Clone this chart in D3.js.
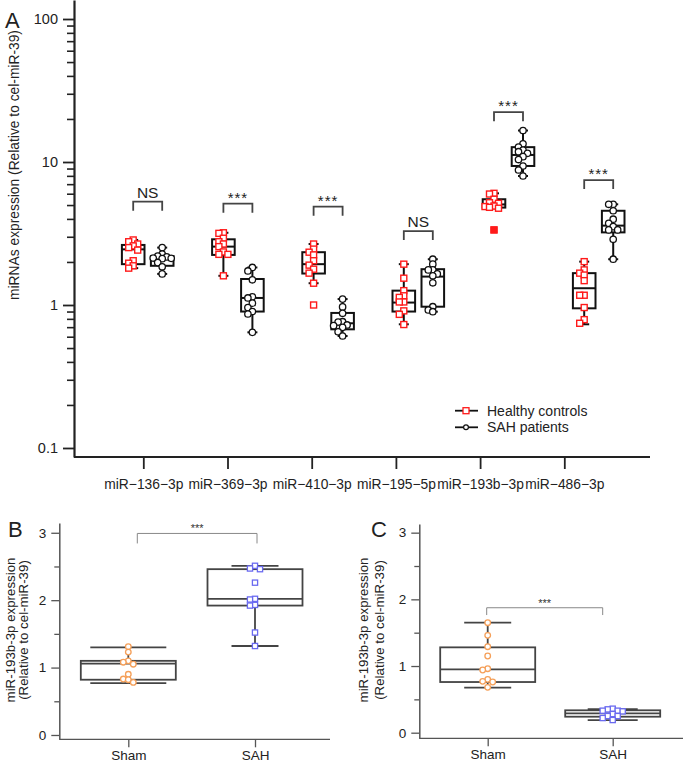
<!DOCTYPE html>
<html><head><meta charset="utf-8">
<script src="https://cdn.jsdelivr.net/npm/d3@7"></script>
<style>body{margin:0;background:#fff} svg{display:block;font-family:"Liberation Sans",Arial,sans-serif}</style>
</head><body>
<svg id="c" width="685" height="763"></svg>
<script>
// ---------- Panel A data ----------
const categories = ["miR\u2212136\u22123p","miR\u2212369\u22123p","miR\u2212410\u22123p","miR\u2212195\u22125p","miR\u2212193b\u22123p","miR\u2212486\u22123p"];
const seriesNames = ["Healthy controls","SAH patients"];
const hcValues = [
  [2.85,2.77,2.67,2.59,2.52,2.42,2.04,1.96,1.88,1.81],
  [3.20,3.17,2.93,2.77,2.67,2.56,2.35,2.26,2.26,1.60],
  [2.67,2.46,2.34,2.24,2.04,1.90,1.78,1.67,1.42,1.00],
  [1.93,1.54,1.26,1.16,1.13,1.05,1.05,0.91,0.86,0.73],
  [6.04,5.97,5.49,5.19,5.14,4.92,4.88,4.82,4.75,3.35],
  [2.01,1.76,1.67,1.62,1.48,1.17,1.17,0.96,0.79,0.745]
];
const sahValues = [
  [2.52,2.27,2.20,2.17,2.13,2.12,2.11,1.98,1.85,1.65],
  [1.83,1.73,1.50,1.14,1.12,1.03,0.96,0.90,0.865,0.644],
  [1.10,0.97,0.875,0.764,0.76,0.725,0.717,0.698,0.65,0.607],
  [2.09,1.93,1.76,1.76,1.65,1.60,1.43,0.973,0.923,0.898],
  [16.6,13.4,12.7,12.1,11.8,11.5,10.9,10.4,9.38,8.79,7.98],
  [5.06,5.06,4.56,3.98,3.73,3.53,3.35,3.35,2.88,2.09]
];
// box stats: [lower whisker, Q1, median, Q3, upper whisker]
const hcBox = [
  [1.81,1.93,2.45,2.63,2.85],
  [1.60,2.24,2.56,2.88,3.20],
  [1.42,1.66,1.93,2.34,2.67],
  [0.733,0.90,1.04,1.26,1.93],
  [4.75,4.80,5.05,5.49,6.04],
  [0.733,0.948,1.31,1.67,2.01]
];
const sahBox = [
  [1.65,1.88,2.10,2.20,2.52],
  [0.644,0.90,1.12,1.52,1.83],
  [0.607,0.676,0.745,0.88,1.10],
  [0.898,0.973,1.58,1.78,2.09],
  [7.98,9.38,11.2,12.7,16.6],
  [2.09,3.22,3.59,4.56,5.06]
];
const hcFilledOutliers = [[],[],[],[],[3.35],[]];
const sigLabels = ["NS","***","***","NS","***","***"];
const sigLevel = [5.28,5.11,4.87,3.29,22.3,7.48];
const yMajorA = [0.1,1,10,100];
const yMinorA = [0.2,0.3,0.4,0.5,0.6,0.7,0.8,0.9,2,3,4,5,6,7,8,9,20,30,40,50,60,70,80,90];

// ---------- Panels B and C data ----------
const groupsBC = ["Sham","SAH"];
const shamB = [1.31,1.23,1.10,1.08,1.05,0.90,0.83,0.82,0.78];
const sahB = [2.51,2.47,2.46,2.26,2.02,2.01,1.93,1.92,1.52,1.32];
const boxB = [[0.77,0.82,1.06,1.10,1.30],[1.32,1.92,2.02,2.46,2.51]];
const shamC = [1.65,1.46,1.29,1.15,0.96,0.94,0.80,0.77,0.76,0.68];
const sahC = [0.36,0.35,0.33,0.33,0.32,0.28,0.25,0.25,0.22,0.19];
const boxC = [[0.675,0.76,0.95,1.28,1.65],[0.19,0.24,0.29,0.336,0.355]];
const sigB = {label:"***", level:2.99};
const sigC = {label:"***", level:1.874};
const yTicksBC = [0,1,2,3];
const yMinorBC = [0.5,1.5,2.5];

const svg = d3.select("#c");

function dodge(vals, yfn, step, minD) {
  const pts = vals.map(v => ({v, y: yfn(v)})).sort((a,b) => a.y - b.y);
  const placed = [];
  const offs = [0,-1,1,-2,2,-3,3];
  for (const p of pts) {
    for (const o of offs) {
      const x = o*step;
      if (placed.every(q => Math.hypot(q.x - x, q.y - p.y) >= minD)) { p.x = x; break; }
    }
    if (p.x === undefined) p.x = 0;
    placed.push(p);
  }
  return pts;
}

// ================= PANEL A =================
const yA = d3.scaleLog().domain([0.0865, 135.8]).range([457, 0]);
const xTick = d3.scalePoint().domain(categories).range([143.3, 564.3]);
const xGrp = d3.scalePoint().domain(categories).range([147.7, 598.7]);
const pairOff = 14.5;
const gA = svg.append("g");

gA.append("g").attr("transform","translate(74,0)")
  .call(d3.axisLeft(yA).tickValues(yMinorA).tickFormat("").tickSize(7).tickSizeOuter(0))
  .call(g => g.select(".domain").remove())
  .call(g => g.selectAll("line").attr("stroke","#222").attr("stroke-width",1.6));
gA.append("g").attr("transform","translate(74,0)")
  .call(d3.axisLeft(yA).tickValues(yMajorA).tickFormat(d => d < 1 ? "0.1" : String(d)).tickSize(11).tickSizeOuter(0).tickPadding(5))
  .call(g => g.select(".domain").attr("stroke","#222").attr("stroke-width",2.2))
  .call(g => g.selectAll("line").attr("stroke","#222").attr("stroke-width",1.8))
  .call(g => g.selectAll("text").attr("font-size",14.5).attr("fill","#222").attr("font-family","Liberation Sans, Arial"));

const xAxisG = gA.append("g").attr("transform","translate(0,457)");
xAxisG.append("line").attr("x1",74).attr("x2",650).attr("stroke","#222").attr("stroke-width",2.2);
xAxisG.call(d3.axisBottom(xTick).tickSize(12).tickSizeOuter(0).tickPadding(10))
  .call(g => g.select(".domain").remove())
  .call(g => g.selectAll("line").attr("stroke","#222").attr("stroke-width",1.8))
  .call(g => g.selectAll("text").attr("font-size",13.8).attr("fill","#222").attr("font-family","Liberation Sans, Arial"));

gA.append("text").attr("x",5).attr("y",28).attr("font-size",22).attr("fill","#222").text("A");
gA.append("text").attr("transform","translate(19,165) rotate(-90)").attr("text-anchor","middle")
  .attr("font-size",13.8).attr("fill","#222").text("miRNAs expression (Relative to cel-miR-39)");

const boxW = 22.6, capW = 10;
function drawBoxA(cx, s) {
  const g = gA.append("g").attr("stroke","#111").attr("stroke-width",2).attr("fill","none");
  g.append("line").attr("x1",cx).attr("x2",cx).attr("y1",yA(s[0])).attr("y2",yA(s[1]));
  g.append("line").attr("x1",cx).attr("x2",cx).attr("y1",yA(s[3])).attr("y2",yA(s[4]));
  g.append("line").attr("x1",cx-capW/2).attr("x2",cx+capW/2).attr("y1",yA(s[0])).attr("y2",yA(s[0]));
  g.append("line").attr("x1",cx-capW/2).attr("x2",cx+capW/2).attr("y1",yA(s[4])).attr("y2",yA(s[4]));
  g.append("rect").attr("x",cx-boxW/2).attr("width",boxW).attr("y",yA(s[3])).attr("height",yA(s[1])-yA(s[3]));
  g.append("line").attr("x1",cx-boxW/2).attr("x2",cx+boxW/2).attr("y1",yA(s[2])).attr("y2",yA(s[2]));
}
categories.forEach((c,i) => {
  const cx = xGrp(c);
  drawBoxA(cx - pairOff, hcBox[i]);
  drawBoxA(cx + pairOff, sahBox[i]);
  dodge(hcValues[i], yA, 4.5, 4.5).forEach(p => {
    gA.append("rect").attr("x",cx-pairOff+p.x-3).attr("y",p.y-3).attr("width",6).attr("height",6)
      .attr("fill","#fff").attr("stroke","#ff1a1a").attr("stroke-width",1.4);
  });
  hcFilledOutliers[i].forEach(v => {
    gA.append("rect").attr("x",cx-pairOff-3.5).attr("y",yA(v)-3.5).attr("width",7).attr("height",7).attr("fill","#ff1a1a");
  });
  dodge(sahValues[i], yA, 4.5, 4.5).forEach(p => {
    gA.append("circle").attr("cx",cx+pairOff+p.x).attr("cy",p.y).attr("r",3.2)
      .attr("fill","#fff").attr("stroke","#111").attr("stroke-width",1.3);
  });
  const by = yA(sigLevel[i]);
  gA.append("path").attr("d",`M${cx-pairOff},${by+9}V${by}H${cx+pairOff}V${by+9}`)
    .attr("fill","none").attr("stroke","#444").attr("stroke-width",1.8);
  gA.append("text").attr("x",cx).attr("y", sigLabels[i]==="NS" ? by-4 : by-1)
    .attr("text-anchor","middle").attr("font-size", sigLabels[i]==="NS" ? 15.5 : 15).attr("fill","#222")
    .attr("letter-spacing", sigLabels[i]==="NS" ? 0 : 1).text(sigLabels[i]);
});

const lg = gA.append("g");
[0,1].forEach(k => {
  const ly = 410.7 + k*16.6;
  lg.append("line").attr("x1",455).attr("x2",478).attr("y1",ly).attr("y2",ly).attr("stroke","#111").attr("stroke-width",1.8);
  if (k===0) lg.append("rect").attr("x",463).attr("y",ly-3).attr("width",6).attr("height",6).attr("fill","#fff").attr("stroke","#ff1a1a").attr("stroke-width",1.3);
  else lg.append("circle").attr("cx",466).attr("cy",ly).attr("r",2.4).attr("fill","#fff").attr("stroke","#111").attr("stroke-width",1.2);
  lg.append("text").attr("x",487).attr("y",ly+5).attr("font-size",14).attr("fill","#222").text(seriesNames[k]);
});

// ================= PANELS B & C =================
function panelBC(opt) {
  const g = svg.append("g");
  const y = d3.scaleLinear().domain(opt.yDom).range([opt.bottom, opt.top]);
  const x = d3.scalePoint().domain(groupsBC).range(opt.xr);
  const axisCol = "#555";
  g.append("g").attr("transform",`translate(${opt.left},0)`)
    .call(d3.axisLeft(y).tickValues(yMinorBC).tickFormat("").tickSize(5).tickSizeOuter(0))
    .call(a => a.select(".domain").remove())
    .call(a => a.selectAll("line").attr("stroke",axisCol).attr("stroke-width",1.3));
  g.append("g").attr("transform",`translate(${opt.left},0)`)
    .call(d3.axisLeft(y).tickValues(yTicksBC).tickFormat(d3.format("d")).tickSize(8).tickSizeOuter(0).tickPadding(5))
    .call(a => a.select(".domain").attr("stroke",axisCol).attr("stroke-width",1.5))
    .call(a => a.selectAll("line").attr("stroke",axisCol).attr("stroke-width",1.3))
    .call(a => a.selectAll("text").attr("font-size",13.5).attr("fill","#222").attr("font-family","Liberation Sans, Arial"));
  const xa = g.append("g").attr("transform",`translate(0,${opt.bottom})`);
  xa.append("line").attr("x1",opt.left).attr("x2",opt.right).attr("stroke",axisCol).attr("stroke-width",1.5);
  xa.call(d3.axisBottom(x).tickSize(8).tickSizeOuter(0).tickPadding(3))
    .call(a => a.select(".domain").remove())
    .call(a => a.selectAll("line").attr("stroke",axisCol).attr("stroke-width",1.3))
    .call(a => a.selectAll("text").attr("font-size",13.5).attr("fill","#222").attr("font-family","Liberation Sans, Arial"));
  g.append("text").attr("x",opt.letterX).attr("y",537).attr("font-size",22).attr("fill","#222").text(opt.letter);
  const yl = g.append("text").attr("transform",`translate(${opt.labX},630) rotate(-90)`).attr("text-anchor","middle")
    .attr("font-size",13.3).attr("fill","#222");
  yl.append("tspan").attr("x",0).attr("dy",0).text("miR-193b-3p expression");
  yl.append("tspan").attr("x",0).attr("dy",opt.labGap).text("(Relative to cel-miR-39)");
  const bw = 95;
  opt.boxes.forEach((s,i) => {
    const cx = x(groupsBC[i]);
    const cw = opt.capW[i];
    const bg = g.append("g").attr("stroke","#444").attr("stroke-width",1.8).attr("fill","none");
    bg.append("line").attr("x1",cx).attr("x2",cx).attr("y1",y(s[0])).attr("y2",y(s[1]));
    bg.append("line").attr("x1",cx).attr("x2",cx).attr("y1",y(s[3])).attr("y2",y(s[4]));
    bg.append("line").attr("x1",cx-cw/2).attr("x2",cx+cw/2).attr("y1",y(s[0])).attr("y2",y(s[0]));
    bg.append("line").attr("x1",cx-cw/2).attr("x2",cx+cw/2).attr("y1",y(s[4])).attr("y2",y(s[4]));
    bg.append("rect").attr("x",cx-bw/2).attr("width",bw).attr("y",y(s[3])).attr("height",y(s[1])-y(s[3]));
    bg.append("line").attr("x1",cx-bw/2).attr("x2",cx+bw/2).attr("y1",y(s[2])).attr("y2",y(s[2]));
  });
  const cs = x("Sham");
  dodge(opt.sham, y, 5, 5).forEach(p => {
    g.append("circle").attr("cx",cs+p.x).attr("cy",p.y).attr("r",2.8).attr("fill","#fff").attr("stroke","#f5a05a").attr("stroke-width",1.3);
  });
  const cS = x("SAH");
  dodge(opt.sah, y, 5, 5).forEach(p => {
    g.append("rect").attr("x",cS+p.x-2.6).attr("y",p.y-2.6).attr("width",5.2).attr("height",5.2).attr("fill","#fff").attr("stroke","#6a6af0").attr("stroke-width",1.3);
  });
  const by = y(opt.sig.level);
  const x1 = cs + opt.sigOff[0], x2 = cS + opt.sigOff[1];
  g.append("path").attr("d",`M${x1},${by+opt.leg}V${by}H${x2}V${by+opt.leg}`).attr("fill","none").attr("stroke","#888").attr("stroke-width",1);
  g.append("text").attr("x",(x1+x2)/2).attr("y",by-1).attr("text-anchor","middle").attr("font-size",11).attr("fill","#333").text(opt.sig.label);
}
panelBC({letter:"B", letterX:8, labX:14.5, labGap:13.8, left:59.3, right:330, top:523, bottom:739.3,
  yDom:[-0.064,3.145], xr:[128.3,255], boxes:boxB, capW:[76,47], sham:shamB, sah:sahB,
  sig:sigB, sigOff:[9,2], leg:10});
panelBC({letter:"C", letterX:371, labX:368, labGap:15.5, left:419.3, right:683, top:524, bottom:738.3,
  yDom:[-0.084,3.13], xr:[487.7,612.7], boxes:boxC, capW:[47,50], sham:shamC, sah:sahC,
  sig:sigC, sigOff:[-1,-10], leg:7.3});
</script>
</body></html>
